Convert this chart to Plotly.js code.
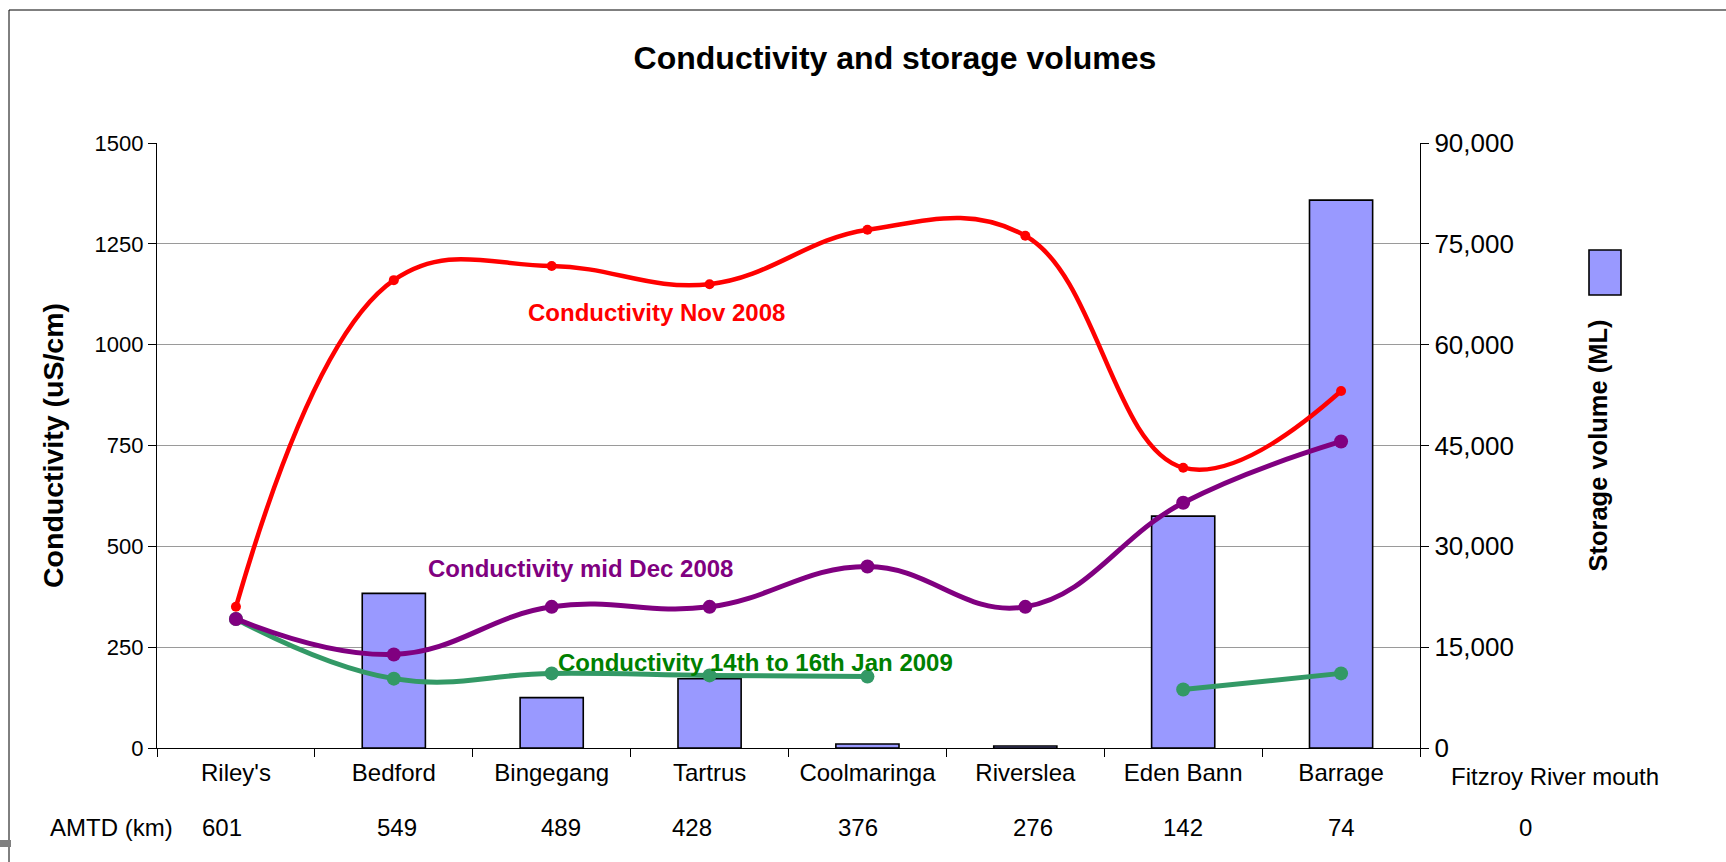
<!DOCTYPE html>
<html>
<head>
<meta charset="utf-8">
<script src="https://cdn.plot.ly/plotly-3.0.1.min.js"></script>
<style>html,body{margin:0;padding:0;background:#fff;}#chart{width:1726px;height:862px;}</style>
</head>
<body>
<div id="chart"></div>
<script>
// ---- data ----
const stations = ["Riley's", "Bedford", "Bingegang", "Tartrus", "Coolmaringa", "Riverslea", "Eden Bann", "Barrage", "Fitzroy River mouth"];
const amtdKm = [601, 549, 489, 428, 376, 276, 142, 74, 0];
const sites = stations.slice(0, 8);
const storageML = [null, 23000, 7500, 10300, 600, 300, 34500, 81500];
const condNov2008 = [350, 1160, 1195, 1150, 1285, 1270, 695, 885];
const condDec2008 = [320, 232, 350, 350, 450, 350, 608, 760];
const condJan2009 = [320, 172, 185, 180, 177, null, 145, 185];
const seriesNames = ["Conductivity Nov 2008", "Conductivity mid Dec 2008", "Conductivity 14th to 16th Jan 2009"];

// ---- styling / layout helpers ----
const FONT = "Liberation Sans, Arial, sans-serif";
const CAT = 24;
const amtdLabelShift = [-14, 3, 9, -18, -9, 8, 0, 0]; // px nudges of the AMTD text row

const traces = [
  {
    type: 'bar', name: 'Storage volume (ML)', x: sites, y: storageML, yaxis: 'y',
    marker: {color: '#9999ff', line: {color: '#000000', width: 1.6}},
    showlegend: false, hoverinfo: 'x+y'
  },
  {
    type: 'scatter', mode: 'lines+markers', name: seriesNames[0], x: sites, y: condNov2008, yaxis: 'y2',
    line: {color: '#ff0000', width: 4.5, shape: 'spline', smoothing: 1.15},
    marker: {color: '#ff0000', size: 10}, cliponaxis: false, showlegend: false
  },
  {
    type: 'scatter', mode: 'lines+markers', name: seriesNames[2], x: sites, y: condJan2009, yaxis: 'y2',
    line: {color: '#339966', width: 5, shape: 'spline', smoothing: 1.2},
    marker: {color: '#339966', size: 14}, connectgaps: false, cliponaxis: false, showlegend: false
  },
  {
    type: 'scatter', mode: 'lines+markers', name: seriesNames[1], x: sites, y: condDec2008, yaxis: 'y2',
    line: {color: '#800080', width: 5, shape: 'spline', smoothing: 1.2},
    marker: {color: '#800080', size: 14}, cliponaxis: false, showlegend: false
  }
];

// paper-coordinate helpers for the plot frame (margins below)
const M = {l: 157, r: 306, t: 143, b: 114};
const PW = 1726 - M.l - M.r, PH = 862 - M.t - M.b;
const px = v => (v - M.l) / PW;
const py = v => (862 - M.b - v) / PH;

const txt = (text, x, y, xref, yref, font, xshift) => ({text, x, y, xref, yref, showarrow: false,
  xanchor: 'center', yanchor: 'middle', font, xshift: xshift || 0});

const annotations = [
  txt(seriesNames[0], 2.663, 1080, 'x', 'y2', {family: FONT, size: 24, color: '#ff0000', weight: 'bold'}),
  txt(seriesNames[1], 2.183, 445, 'x', 'y2', {family: FONT, size: 24, color: '#800080', weight: 'bold'}),
  txt(seriesNames[2], 3.291, 212, 'x', 'y2', {family: FONT, size: 24, color: '#008000', weight: 'bold'}),
  txt('AMTD (km)', px(111), py(827), 'paper', 'paper', {family: FONT, size: CAT, color: '#000'}),
  txt(stations[8], px(1555), py(776), 'paper', 'paper', {family: FONT, size: CAT, color: '#000'}),
  txt(String(amtdKm[8]), px(1525), py(827), 'paper', 'paper', {family: FONT, size: CAT, color: '#000'})
];
sites.forEach((s, i) => {
  annotations.push(txt(String(amtdKm[i]), i, py(827), 'x', 'paper', {family: FONT, size: CAT, color: '#000'}, amtdLabelShift[i]));
});

const shapes = [
  // chart border (left and top edges visible)
  {type: 'line', xref: 'paper', yref: 'paper', x0: px(9), x1: px(9), y0: py(10), y1: py(900), line: {color: '#000', width: 1}},
  {type: 'line', xref: 'paper', yref: 'paper', x0: px(9), x1: px(1800), y0: py(10), y1: py(10), line: {color: '#000', width: 1}},
  // legend key for storage bars
  {type: 'rect', xref: 'paper', yref: 'paper', x0: px(1589), x1: px(1621), y0: py(295), y1: py(250),
   fillcolor: '#9999ff', line: {color: '#000', width: 1.6}},
  // small grey mark at the lower-left edge
  {type: 'rect', xref: 'paper', yref: 'paper', x0: px(0), x1: px(11), y0: py(847), y1: py(840),
   fillcolor: '#808080', line: {width: 0}}
];

const layout = {
  width: 1726, height: 862,
  margin: {l: M.l, r: M.r, t: M.t, b: M.b, pad: 0},
  paper_bgcolor: '#ffffff', plot_bgcolor: '#ffffff',
  font: {family: FONT, color: '#000'},
  title: {text: 'Conductivity and storage volumes', xref: 'container', yref: 'container',
          x: 895 / 1726, xanchor: 'center', y: 1 - 58 / 862, yanchor: 'middle',
          font: {family: FONT, size: 32, color: '#000', weight: 'bold'}},
  bargap: 0.6,
  showlegend: false,
  xaxis: {
    type: 'category', categoryorder: 'array', categoryarray: sites, range: [-0.5, 7.5],
    tickson: 'boundaries', ticks: 'outside', ticklen: 8, tickcolor: '#000', tickwidth: 1,
    showline: true, linecolor: '#000', linewidth: 1.2, showgrid: false, zeroline: false,
    tickfont: {family: FONT, size: CAT, color: '#000'}, ticklabelstandoff: 3, automargin: false
  },
  yaxis: {
    side: 'right', range: [0, 90000], dtick: 15000, tick0: 0, tickformat: ',d',
    ticks: 'outside', ticklen: 8, tickcolor: '#000', showline: true, linecolor: '#000', linewidth: 1.2,
    showgrid: true, gridcolor: '#9a9a9a', gridwidth: 1.2, zeroline: false,
    tickfont: {family: FONT, size: 26, color: '#000'}, automargin: false,
    title: {text: 'Storage volume (ML)', standoff: 76, font: {family: FONT, size: 25.5, color: '#000', weight: 'bold'}}
  },
  yaxis2: {
    overlaying: 'y', side: 'left', range: [0, 1500], dtick: 250, tick0: 0,
    ticks: 'outside', ticklen: 8, tickcolor: '#000', showline: true, linecolor: '#000', linewidth: 1.2,
    showgrid: false, zeroline: false,
    tickfont: {family: FONT, size: 22, color: '#000'}, automargin: false,
    title: {text: 'Conductivity (uS/cm)', standoff: 22, font: {family: FONT, size: 28.5, color: '#000', weight: 'bold'}}
  },
  annotations: annotations,
  shapes: shapes
};

Plotly.newPlot('chart', traces, layout, {displayModeBar: false, staticPlot: true});
</script>
</body>
</html>
